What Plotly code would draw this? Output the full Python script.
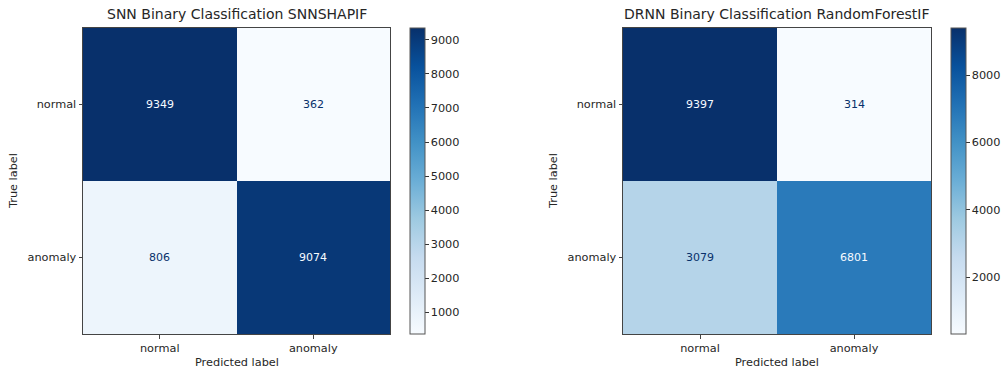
import plotly.graph_objects as go

labels = ["normal", "anomaly"]
snn_values = [[9349, 362], [806, 9074]]
drnn_values = [[9397, 314], [3079, 6801]]
titles = ["SNN Binary Classification SNNSHAPIF", "DRNN Binary Classification RandomForestIF"]
snn_cbar_ticks = [1000, 2000, 3000, 4000, 5000, 6000, 7000, 8000, 9000]
drnn_cbar_ticks = [2000, 4000, 6000, 8000]

blues = [
    [0.0, "rgb(247,251,255)"], [0.125, "rgb(222,235,247)"], [0.25, "rgb(198,219,239)"],
    [0.375, "rgb(158,202,225)"], [0.5, "rgb(107,174,214)"], [0.625, "rgb(66,146,198)"],
    [0.75, "rgb(33,113,181)"], [0.875, "rgb(8,81,156)"], [1.0, "rgb(8,48,107)"],
]

W, H = 1004, 373
FONT = "DejaVu Sans"
TXT = "#262626"
FS = 11.3

fig = go.Figure()

panels = [
    dict(z=snn_values, ticks=snn_cbar_ticks, x0=83, x1=390, cb=410, xa="x", ya="y"),
    dict(z=drnn_values, ticks=drnn_cbar_ticks, x0=623, x1=931, cb=951, xa="x2", ya="y2"),
]
ytop, ybot = 28, 334

annotations = []
for i, p in enumerate(panels):
    z = p["z"]
    flat = [v for row in z for v in row]
    zmin, zmax = min(flat), max(flat)
    fig.add_trace(go.Heatmap(
        z=z, x=labels, y=labels, xaxis=p["xa"], yaxis=p["ya"],
        colorscale=blues, zmin=zmin, zmax=zmax, hoverinfo="skip",
        colorbar=dict(
            x=p["cb"] / W, xanchor="left", xref="paper", xpad=0, ypad=0,
            y=1 - (ytop + ybot) / 2 / H, yanchor="middle",
            len=ybot - ytop, lenmode="pixels", thickness=15,
            outlinecolor="#555", outlinewidth=1,
            tickvals=p["ticks"], ticks="outside", ticklen=3.5, tickcolor="#333",
            tickfont=dict(family=FONT, size=FS, color=TXT),
        ),
    ))
    thresh = (zmin + zmax) / 2
    for r, yl in enumerate(labels):
        for c, xl in enumerate(labels):
            v = z[r][c]
            color = "rgb(247,251,255)" if v >= thresh else "rgb(8,48,107)"
            annotations.append(dict(
                x=xl, y=yl, xref=p["xa"], yref=p["ya"], text=str(v), showarrow=False,
                font=dict(family=FONT, size=11, color=color),
            ))
    cx = (p["x0"] + p["x1"]) / 2 / W
    annotations.append(dict(x=cx, y=1 - 14 / H, xref="paper", yref="paper", text=titles[i],
                            showarrow=False, font=dict(family=FONT, size=14, color=TXT),
                            xanchor="center", yanchor="middle"))
    annotations.append(dict(x=cx, y=1 - 362 / H, xref="paper", yref="paper", text="Predicted label",
                            showarrow=False, font=dict(family=FONT, size=FS, color=TXT),
                            xanchor="center", yanchor="middle"))
    annotations.append(dict(x=(p["x0"] - 70) / W, y=1 - (ytop + ybot) / 2 / H, xref="paper", yref="paper",
                            text="True label", textangle=-90, showarrow=False,
                            font=dict(family=FONT, size=FS, color=TXT),
                            xanchor="center", yanchor="middle"))

axis_common = dict(showgrid=False, zeroline=False, showline=True, mirror=True, linecolor="#444",
                   linewidth=1, ticks="outside", ticklen=3.5, tickcolor="#444",
                   tickfont=dict(family=FONT, size=FS, color=TXT))

fig.update_layout(
    width=W, height=H, margin=dict(l=0, r=0, t=0, b=0),
    paper_bgcolor="white", plot_bgcolor="white", showlegend=False,
    annotations=annotations,
    xaxis=dict(domain=[83 / W, 390 / W], anchor="y", **axis_common),
    yaxis=dict(domain=[1 - ybot / H, 1 - ytop / H], anchor="x", autorange="reversed", **axis_common),
    xaxis2=dict(domain=[623 / W, 931 / W], anchor="y2", **axis_common),
    yaxis2=dict(domain=[1 - ybot / H, 1 - ytop / H], anchor="x2", autorange="reversed", **axis_common),
)

fig.write_html("out.html")
